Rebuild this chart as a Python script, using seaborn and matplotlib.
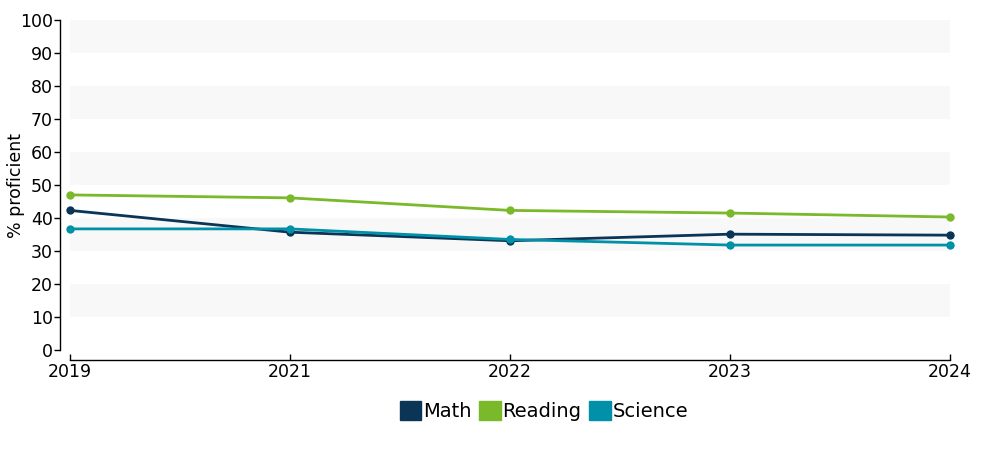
import matplotlib
matplotlib.use("Agg")
import matplotlib.pyplot as plt
import matplotlib.patches as mpatches
import seaborn as sns
import pandas as pd

years = ["2019", "2021", "2022", "2023", "2024"]
math_vals = [42.3, 35.7, 33.1, 35.1, 34.8]
reading_vals = [47.0, 46.1, 42.3, 41.5, 40.3]
science_vals = [36.7, 36.7, 33.5, 31.8, 31.8]
series_names = ["Math", "Reading", "Science"]
colors = ["#0a3557", "#7ab929", "#0090a8"]

rows = []
for name, vals in zip(series_names, [math_vals, reading_vals, science_vals]):
    for i, (yr, v) in enumerate(zip(years, vals)):
        rows.append({"pos": i, "year": yr, "subject": name, "value": v})
df = pd.DataFrame(rows)

sns.set_style("white")
plt.rcParams['font.family'] = ['DejaVu Sans']
plt.rcParams['text.color'] = 'black'
plt.rcParams['axes.labelcolor'] = 'black'

fig = plt.figure(figsize=(10, 4.5), dpi=100)
ax = fig.add_axes([0.07, 1 - 350 / 450, 0.88, 330 / 450])

n = len(years)
for lo in range(10, 100, 20):
    ax.fill_between([0, n - 1], lo, lo + 10, color="#f8f8f8", lw=0, zorder=0)

sns.lineplot(data=df, x="pos", y="value", hue="subject", palette=colors,
             hue_order=series_names, marker="o", markersize=6, markeredgewidth=0,
             linewidth=2.0, ax=ax, legend=False, zorder=3)
for line in ax.lines:
    line.set_clip_on(False)

ax.set_xlim(0, n - 1)
ax.set_ylim(0, 100)
ax.set_xticks(range(n))
ax.set_xticklabels(years)
ax.set_yticks(range(0, 101, 10))

for s in ["top", "right"]:
    ax.spines[s].set_visible(False)
ax.spines["left"].set_position(("outward", 7.2))
ax.spines["bottom"].set_position(("outward", 7.2))
ax.spines["left"].set_color("black")
ax.spines["bottom"].set_color("black")
ax.spines["left"].set_linewidth(1)
ax.spines["bottom"].set_linewidth(1)

ax.tick_params(axis="y", direction="out", length=4, width=1, labelsize=12.5, pad=1,
               colors="black", left=True)
ax.tick_params(axis="x", direction="in", length=4, width=1, labelsize=12.5, pad=2,
               colors="black", bottom=True)

ax.set_xlabel("")
ax.set_ylabel("% proficient", fontsize=12.5, color="black")
ax.yaxis.set_label_coords((25 - 70) / 880, 0.5)

handles = [mpatches.Patch(facecolor=c, edgecolor=c, label=nm) for nm, c in zip(series_names, colors)]
leg = fig.legend(handles=handles, loc="center", bbox_to_anchor=(0.544, 1 - 411 / 450),
                 ncol=3, frameon=False, fontsize=14, handlelength=1.1, handleheight=1.1,
                 handletextpad=0.1, columnspacing=0.4)
for t in leg.get_texts():
    t.set_color("black")

fig.savefig("out.png", dpi=100)
